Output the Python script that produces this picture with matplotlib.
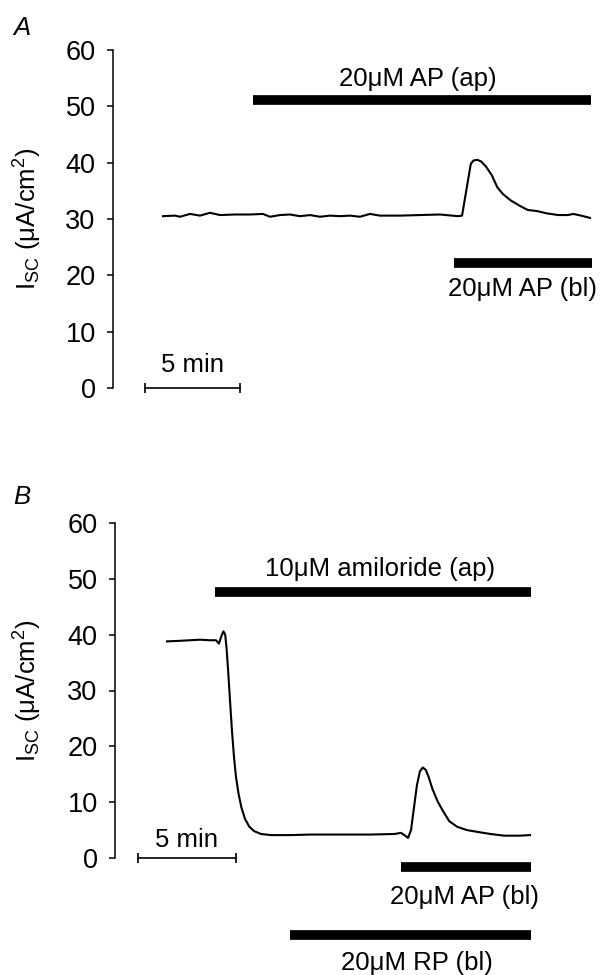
import matplotlib
matplotlib.use("Agg")
import matplotlib.pyplot as plt

plt.rcParams['font.family'] = ['Liberation Sans', 'DejaVu Sans']
plt.rcParams['mathtext.fontset'] = 'custom'
plt.rcParams['mathtext.rm'] = 'Liberation Sans'
plt.rcParams['mathtext.it'] = 'Liberation Sans:italic'

# ---------------- Data (time in min, current in uA/cm2) ----------------
yticks = [0, 10, 20, 30, 40, 50, 60]
ylabel = r'I$_{\mathregular{SC}}$ (μA/cm$^{\mathregular{2}}$)'

# Panel A trace
tA = [0.0, 0.63, 0.89, 1.42, 1.95, 2.47, 3.0, 3.79, 4.58, 5.26, 5.63, 6.16,
      6.68, 7.21, 7.74, 8.26, 8.79, 9.32, 9.84, 10.37, 10.89, 11.42, 12.47,
      13.53, 14.58, 15.53, 15.74, 16.2, 16.35, 16.55, 16.75, 17.0, 17.3,
      17.6, 17.9, 18.3, 18.8, 19.2, 19.7, 20.2, 20.8, 21.3, 21.6, 22.0, 22.47]
iA = [30.5, 30.6, 30.4, 30.9, 30.6, 31.1, 30.7, 30.8, 30.8, 30.9, 30.4, 30.7,
      30.8, 30.5, 30.7, 30.4, 30.6, 30.5, 30.6, 30.4, 30.9, 30.6, 30.6,
      30.7, 30.8, 30.5, 30.6, 39.8, 40.4, 40.5, 40.2, 39.3, 37.8,
      35.6, 34.4, 33.3, 32.3, 31.6, 31.4, 31.0, 30.7, 30.7, 30.9, 30.6, 30.2]

# Panel A drug bars
barsA_start = [4.74, 15.3]
barsA_end = [22.5, 22.6]
barsA_level = [51.2, 22.2]
barsA_labels = ['20μM AP (ap)', '20μM AP (bl)']
barsA_label_x = [13.4, 18.9]
barsA_label_y = [54.9, 17.6]

# Panel B trace
tB = [0.0, 0.66, 1.17, 1.68, 2.19, 2.5, 2.65, 2.78, 2.88, 2.97, 3.04, 3.11,
      3.21, 3.31, 3.42, 3.52, 3.65, 3.8, 3.98, 4.2, 4.45, 4.8, 5.3, 6.28,
      7.30, 8.83, 10.36, 11.6, 11.94, 12.15, 12.3, 12.45, 12.6, 12.75, 12.9,
      13.05, 13.2, 13.35, 13.55, 13.8, 14.05, 14.4, 14.8, 15.3, 15.8, 16.5,
      17.2, 18.0, 18.52]
iB = [38.8, 38.9, 39.0, 39.1, 39.0, 39.0, 38.4, 39.8, 40.6, 40.0, 37.5, 34.0,
      28.5, 23.0, 18.0, 14.5, 11.5, 9.0, 7.0, 5.6, 4.8, 4.3, 4.1, 4.1,
      4.2, 4.2, 4.2, 4.3, 4.5, 4.0, 3.6, 5.0, 9.0, 13.0, 15.5,
      16.2, 15.8, 14.5, 12.3, 10.2, 8.6, 6.6, 5.6, 5.0, 4.7, 4.3,
      4.0, 4.0, 4.1]

barsB_start = [2.45, 11.94, 6.28]
barsB_end = [18.57, 18.57, 18.57]
barsB_level = [47.7, -1.6, -13.8]
barsB_labels = ['10μM amiloride (ap)', '20μM AP (bl)', '20μM RP (bl)']
barsB_label_x = [10.87, 15.2, 12.76]
barsB_label_y = [51.8, -7.0, -18.8]

scale_minutes = 5
scaleA_start = -0.95
scaleB_start = -1.48

FS = 18.5
TICK_FS = 19.5

# ---------------- Figure ----------------
W, H = 603, 975
fig = plt.figure(figsize=(W / 100, H / 100), dpi=100)


def make_axes(left_px, top_px, bottom_px, right_px):
    return fig.add_axes([left_px / W, 1 - bottom_px / H,
                         (right_px - left_px) / W, (bottom_px - top_px) / H])


def style_axes(ax, xlim, lab_x, lab_y):
    ax.set_xlim(*xlim)
    ax.set_ylim(0, 60)
    for s in ['top', 'right', 'bottom']:
        ax.spines[s].set_visible(False)
    ax.spines['left'].set_linewidth(1.1)
    ax.set_xticks([])
    ax.set_yticks(yticks)
    ax.tick_params(axis='y', direction='out', length=4, width=1.1,
                   pad=8.5, labelsize=TICK_FS)
    ax.set_ylabel(ylabel, fontsize=FS)
    ax.yaxis.set_label_coords(lab_x, lab_y)
    ax.patch.set_alpha(0)


def draw_panel(ax, t, i, bs, be, bl, labels, lx, ly, sc_start, sc_label_y):
    ax.plot(t, i, color='black', lw=1.5, clip_on=False)
    for s, e, l in zip(bs, be, bl):
        ax.plot([s, e], [l, l], color='black', lw=7, solid_capstyle='butt',
                clip_on=False)
    for txt, x, y in zip(labels, lx, ly):
        ax.text(x, y, txt, ha='center', va='center', fontsize=FS,
                clip_on=False)
    # 5 min scale bar
    ax.plot([sc_start, sc_start + scale_minutes], [0, 0], color='black',
            lw=1.2, clip_on=False, marker='|', markersize=7, markeredgewidth=1.2)
    ax.text(sc_start + scale_minutes / 2, sc_label_y, '5 min', ha='center',
            va='center', fontsize=FS, clip_on=False)


# Panel A
axA = make_axes(113, 50, 388, 600)
pxA = 19.0
style_axes(axA, (-(163 - 113) / pxA, -(163 - 113) / pxA + (600 - 113) / pxA),
           -0.142, 0.5)
draw_panel(axA, tA, iA, barsA_start, barsA_end, barsA_level, barsA_labels,
           barsA_label_x, barsA_label_y, scaleA_start, 4.1)

# Panel B
axB = make_axes(115, 523, 858, 600)
pxB = 19.6
style_axes(axB, (-(167 - 115) / pxB, -(167 - 115) / pxB + (600 - 115) / pxB),
           -0.146, 0.5)
draw_panel(axB, tB, iB, barsB_start, barsB_end, barsB_level, barsB_labels,
           barsB_label_x, barsB_label_y, scaleB_start, 3.2)

fig.text(13 / W, 1 - 28 / H, 'A', fontsize=FS, style='italic',
         ha='left', va='center')
fig.text(13 / W, 1 - 497 / H, 'B', fontsize=FS, style='italic',
         ha='left', va='center')

fig.savefig('out.png', dpi=100, facecolor='white')
